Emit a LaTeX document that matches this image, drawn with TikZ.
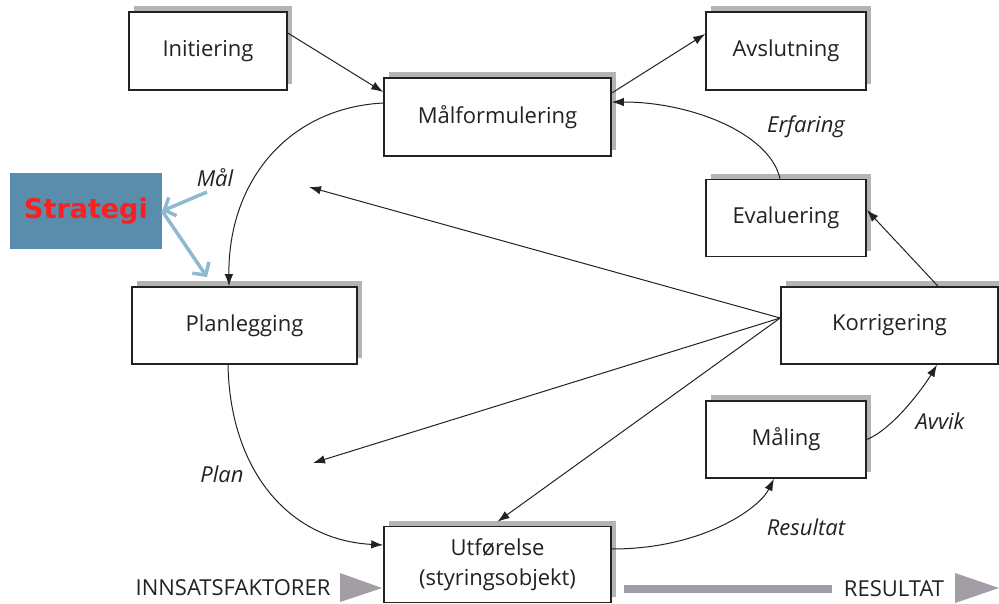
\documentclass[tikz,border=0pt]{standalone}
\usepackage{fontspec}
\setmainfont{Open Sans}
\newfontfamily\strfont{DejaVu Sans}
\usetikzlibrary{arrows.meta,shadows}
\definecolor{ink}{RGB}{34,34,34}
\definecolor{shade}{RGB}{178,182,176}
\definecolor{steel}{RGB}{90,140,172}
\definecolor{sred}{RGB}{255,30,30}
\definecolor{pale}{RGB}{141,185,211}
\definecolor{flow}{RGB}{163,158,166}
\begin{document}
\begin{tikzpicture}[x=1pt,y=-1pt,
  every node/.style={font=\fontsize{22}{30}\selectfont, text=ink},
  stage/.style={draw=ink, line width=1.6pt, fill=white, rectangle, inner sep=0pt,
    general shadow={fill=shade, shadow xshift=5pt, shadow yshift=6pt}},
  lab/.style={font=\fontsize{22}{25}\selectfont\itshape},
  conn/.style={draw=ink, line width=1pt, -{Latex[length=12pt,width=8.5pt]}},
  hint/.style={draw=pale, line width=3.5pt, -{Straight Barb[length=9pt,width=20pt]}},
]
\useasboundingbox (0,0) rectangle (999,603);

% process stages
\node[stage, minimum width=158pt, minimum height=78pt] (init) at (208,51) {Initiering};
\node[stage, minimum width=227pt, minimum height=78pt] (malf) at (497.5,117) {Målformulering};
\node[stage, minimum width=160pt, minimum height=78pt] (avsl) at (786,51) {Avslutning};
\node[stage, minimum width=160pt, minimum height=77pt] (eval) at (786,218) {Evaluering};
\node[stage, minimum width=225pt, minimum height=77pt] (plan) at (244.5,325.5) {Planlegging};
\node[stage, minimum width=217pt, minimum height=77pt] (korr) at (889.5,325.5) {Korrigering};
\node[stage, minimum width=160pt, minimum height=77pt] (mal) at (786,439.5) {Måling};
\node[stage, minimum width=227pt, minimum height=76pt, align=center] (utf) at (497.5,564.5) {Utførelse\\(styringsobjekt)};

% strategy box
\node[fill=steel, minimum width=152pt, minimum height=76pt, inner sep=0pt,
  text=sred, font=\strfont\bfseries\fontsize{27}{30}\selectfont] (strat) at (86,211) {Strategi};

% free ends of the correction arrows and strategy hints
\coordinate (m1) at (309,187);
\coordinate (m2) at (313,463);
\coordinate (b1) at (207,192);
\coordinate (b2) at (207,277);

% straight connectors
\draw[conn] ([yshift=18pt]init.east) -- ([yshift=25pt]malf.west);
\draw[conn] ([yshift=24pt]malf.east) -- ([yshift=17pt]avsl.west);
\draw[conn] ([xshift=48.5pt]korr.north) -- ([yshift=8pt]eval.east);
\draw[conn] ([yshift=7.5pt]korr.west) -- (m1);
\draw[conn] ([yshift=7.5pt]korr.west) -- (m2);
\draw[conn] ([yshift=7.5pt]korr.west) -- ([yshift=4pt]utf.north);

% curved connectors
\draw[conn] ([xshift=-6pt]eval.north) .. controls +(-10,-45) and +(80,0) .. ([yshift=15pt]malf.east);
\draw[conn] ([yshift=14pt]malf.west) .. controls +(-95,5) and +(-1,-105) .. ([xshift=-15.5pt]plan.north);
\draw[conn] ([xshift=-16.5pt]plan.south) .. controls +(2,105) and +(-95,-5) .. ([yshift=19.5pt]utf.west);
\draw[conn] ([yshift=15.5pt]utf.east) .. controls +(90,0) and +(-15,30) .. ([xshift=-12pt]mal.south);
\draw[conn] (mal.east) .. controls +(25,-10) and +(-15,25) .. ([xshift=47.5pt]korr.south);

% flow labels
\node[lab] (lmal) at (215,178) {Mål};
\node[lab] (lerf) at (806,127) {Erfaring};
\node[lab] (lplan) at (222,474) {Plan};
\node[lab] (lres) at (806,527) {Resultat};
\node[lab] (lavv) at (940,421) {Avvik};

% strategy hints
\draw[hint] (b1) -- (strat.east);
\draw[hint] (strat.east) -- (b2);

% input and output flow
\node (inn) at (233,588) {INNSATSFAKTORER};
\fill[flow] (340,573) -- (340,602) -- (382,588) -- cycle;
\fill[flow] (624,585) rectangle (832,593);
\node (res) at (894,589) {RESULTAT};
\fill[flow] (955,573) -- (955,603) -- (999,588) -- cycle;
\end{tikzpicture}
\end{document}
